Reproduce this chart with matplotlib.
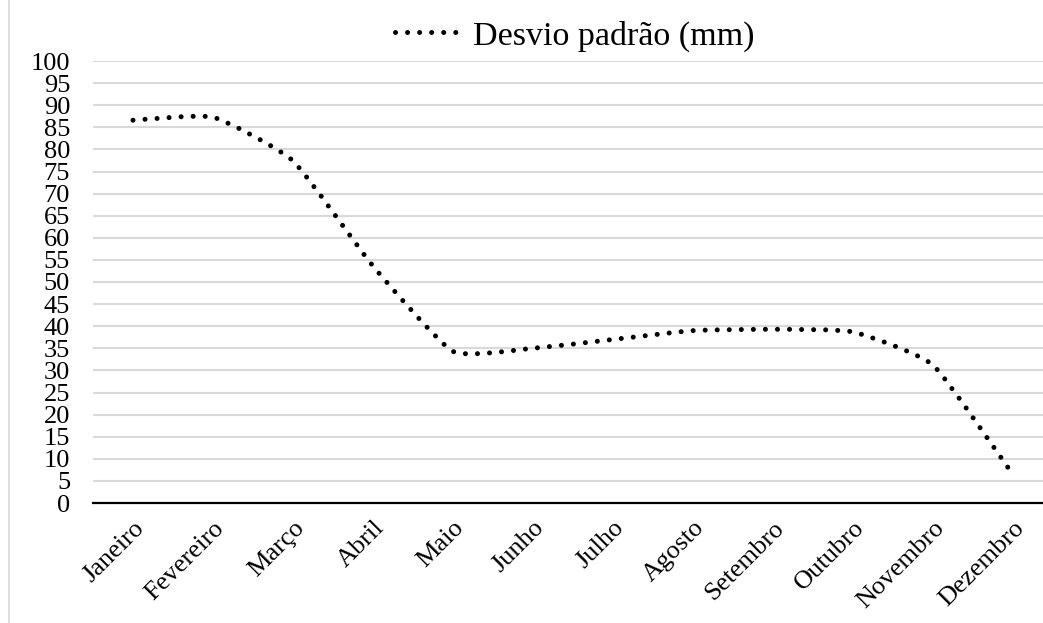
import matplotlib
matplotlib.use('Agg')
import matplotlib.pyplot as plt
from matplotlib.path import Path
from matplotlib.patches import PathPatch
from matplotlib.lines import Line2D
from matplotlib.transforms import ScaledTranslation

meses = ['Janeiro', 'Fevereiro', 'Março', 'Abril', 'Maio', 'Junho', 'Julho',
         'Agosto', 'Setembro', 'Outubro', 'Novembro', 'Dezembro']
desvio = [86.6, 87.3, 77.4, 53.6, 34.3, 35.0, 37.0, 39.0, 39.3, 38.7, 31.2, 6.4]
yticks = list(range(0, 101, 5))
legenda = 'Desvio padrão (mm)'

plt.rcParams['font.family'] = ['Liberation Serif', 'DejaVu Serif']

fig = plt.figure(figsize=(10.43, 6.23), dpi=100)
ax = fig.add_axes([93 / 1043, 120 / 623, 960 / 1043, 442 / 623])

# smoothed line like Excel (bezier through the points, low tension)
k = 0.08
x = list(range(len(desvio)))
pts = list(zip(x, desvio))
verts = [pts[0]]
codes = [Path.MOVETO]
for i in range(len(pts) - 1):
    p0 = pts[i - 1] if i > 0 else pts[i]
    p1 = pts[i]
    p2 = pts[i + 1]
    p3 = pts[i + 2] if i + 2 < len(pts) else pts[i + 1]
    c1 = (p1[0] + (p2[0] - p0[0]) * k, p1[1] + (p2[1] - p0[1]) * k)
    c2 = (p2[0] - (p3[0] - p1[0]) * k, p2[1] - (p3[1] - p1[1]) * k)
    verts += [c1, c2, p2]
    codes += [Path.CURVE4] * 3

lw = 3.6
dots = (0, (0.01, 2.4))
patch = PathPatch(Path(verts, codes), facecolor='none', edgecolor='black',
                  linewidth=lw, linestyle=dots, capstyle='round')
ax.add_patch(patch)

ax.set_xlim(-0.5, len(meses) - 0.5)
ax.set_ylim(0, 100)
ax.set_yticks(yticks)
ax.set_xticks(x)
ax.set_xticklabels(meses, rotation=45, ha='right', va='top',
                   rotation_mode='anchor', fontsize=19)
off = ScaledTranslation(6 / 100, 0, fig.dpi_scale_trans)
for lab in ax.get_xticklabels():
    lab.set_transform(lab.get_transform() + off)
ax.tick_params(axis='y', labelsize=19, length=0, pad=16.5)
ax.tick_params(axis='x', length=0, pad=10)
ax.grid(axis='y', color='#d9d9d9', linewidth=1.5)
ax.set_axisbelow(True)
for s in ['top', 'right', 'left']:
    ax.spines[s].set_visible(False)
ax.spines['bottom'].set_linewidth(1.6)

handle = Line2D([], [], color='black', linewidth=lw, linestyle=dots,
                dash_capstyle='round')
fig.legend([handle], [legenda], loc='center', bbox_to_anchor=(575 / 1043, 1 - 36 / 623),
           frameon=False, fontsize=24.5, handlelength=2.0, handletextpad=0.3)

fig.add_artist(Line2D([9 / 1043, 9 / 1043], [0, 1], color='#d9d9d9', linewidth=1.2))

fig.savefig('out.png', dpi=100)
